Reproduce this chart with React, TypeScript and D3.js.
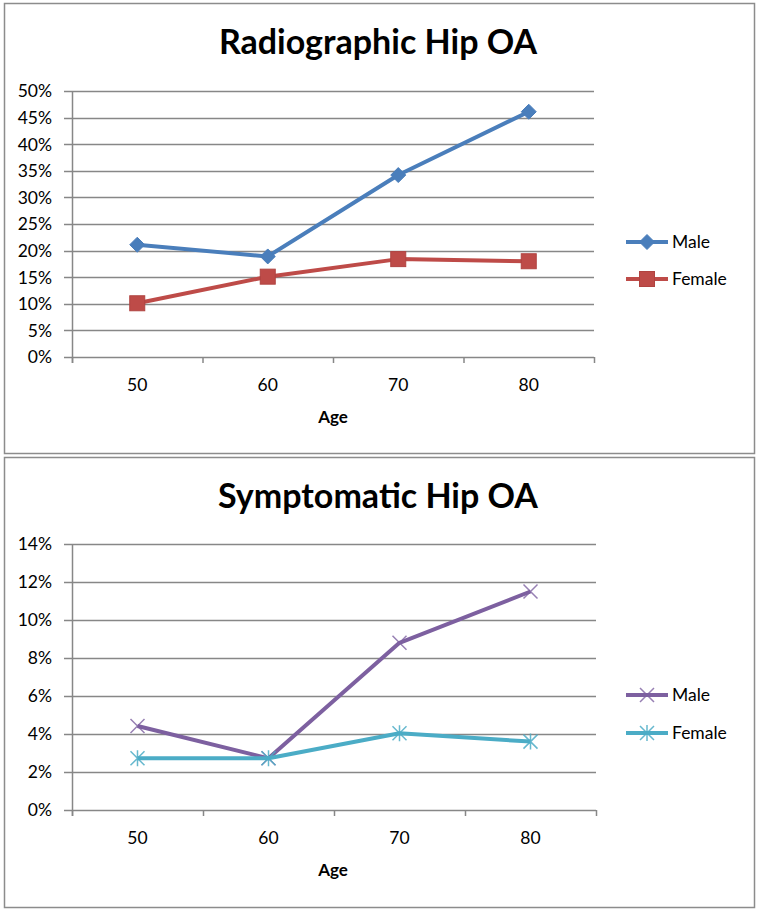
import React from "react";
import * as d3 from "d3";

const ages = ["50", "60", "70", "80"];
const radioMale = [21.1, 18.9, 34.2, 46.1];
const radioFemale = [10.1, 15.1, 18.4, 18.0];
const radioTicks = [0, 5, 10, 15, 20, 25, 30, 35, 40, 45, 50];
const sympMale = [4.42, 2.72, 8.8, 11.5];
const sympFemale = [2.72, 2.72, 4.04, 3.6];
const sympTicks = [0, 2, 4, 6, 8, 10, 12, 14];

const FONT = "Lato, 'Open Sans', sans-serif";
const GRID = "#878787";

type Series = { name: string; values: number[]; color: string; marker: string };

function Marker({ kind, x, y, color }: { kind: string; x: number; y: number; color: string }) {
  if (kind === "diamond") {
    const r = 7.5;
    return <path d={`M${x},${y - r}L${x + r},${y}L${x},${y + r}L${x - r},${y}Z`} fill={color} stroke={color} strokeWidth={1} />;
  }
  if (kind === "square") {
    const r = 7.5;
    return <rect x={x - r} y={y - r} width={2 * r} height={2 * r} fill={color} stroke="#b04340" strokeWidth={1} />;
  }
  if (kind === "x") {
    const r = 7;
    return (
      <path d={`M${x - r},${y - r}L${x + r},${y + r}M${x - r},${y + r}L${x + r},${y - r}`} stroke={color} strokeWidth={1.5} fill="none" opacity={0.8} />
    );
  }
  const r = 7;
  return (
    <path
      d={`M${x - r},${y - r}L${x + r},${y + r}M${x - r},${y + r}L${x + r},${y - r}M${x},${y - r - 1}L${x},${y + r + 1}`}
      stroke={color}
      strokeWidth={1.5}
      fill="none"
      opacity={0.85}
    />
  );
}

function Panel({
  top,
  height,
  title,
  titleY,
  plotTop,
  plotBottom,
  plotRight,
  maxV,
  ticks,
  series,
  legendY,
}: {
  top: number;
  height: number;
  title: string;
  titleY: number;
  plotTop: number;
  plotBottom: number;
  plotRight: number;
  maxV: number;
  ticks: number[];
  series: Series[];
  legendY: number[];
}) {
  const plotLeft = 72;
  const x = d3.scaleBand<string>().domain(ages).range([plotLeft, plotRight]);
  const y = d3.scaleLinear().domain([0, maxV]).range([plotBottom, plotTop]);
  const line = d3
    .line<number>()
    .x((_, i) => (x(ages[i]) as number) + x.bandwidth() / 2)
    .y((v) => y(v));
  const boundaries = [...ages.map((a) => x(a) as number), plotRight];
  return (
    <g>
      <rect x={4.5} y={top + 0.5} width={750} height={height} fill="#fff" stroke="#8c8c8c" strokeWidth={1.5} />
      <text x={378} y={titleY} textAnchor="middle" fontFamily={FONT} fontWeight="bold" fontSize={34} fill="#000">
        {title}
      </text>
      {ticks.map((t) => (
        <g key={t}>
          <line x1={plotLeft - 8} x2={plotRight} y1={Math.round(y(t)) + 0.5} y2={Math.round(y(t)) + 0.5} stroke={GRID} strokeWidth={1.5} />
          <text x={52} y={y(t)} dy="0.36em" textAnchor="end" fontFamily={FONT} fontSize={17.5} fill="#000">
            {t}%
          </text>
        </g>
      ))}
      <line x1={plotLeft + 0.5} x2={plotLeft + 0.5} y1={plotTop} y2={plotBottom + 6} stroke={GRID} strokeWidth={1.5} />
      {boundaries.map((b, i) => (
        <line key={i} x1={b + 0.5} x2={b + 0.5} y1={plotBottom} y2={plotBottom + 6} stroke={GRID} strokeWidth={1.5} />
      ))}
      {ages.map((a) => (
        <text key={a} x={(x(a) as number) + x.bandwidth() / 2} y={plotBottom + 28} dy="0.36em" textAnchor="middle" fontFamily={FONT} fontSize={17.5} fill="#000">
          {a}
        </text>
      ))}
      <text x={333} y={plotBottom + 60} dy="0.36em" textAnchor="middle" fontFamily={FONT} fontWeight="bold" fontSize={17} fill="#000">
        Age
      </text>
      {series.map((s) => (
        <g key={s.name}>
          <path d={line(s.values) as string} fill="none" stroke={s.color} strokeWidth={4} strokeLinejoin="round" />
          {s.values.map((v, i) => (
            <Marker key={i} kind={s.marker} x={(x(ages[i]) as number) + x.bandwidth() / 2} y={y(v)} color={s.color} />
          ))}
        </g>
      ))}
      {series.map((s, i) => (
        <g key={"lg" + s.name}>
          <line x1={626} x2={668} y1={legendY[i]} y2={legendY[i]} stroke={s.color} strokeWidth={4} />
          <Marker kind={s.marker} x={647} y={legendY[i]} color={s.color} />
          <text x={672} y={legendY[i]} dy="0.36em" fontFamily={FONT} fontSize={17.5} fill="#000">
            {s.name}
          </text>
        </g>
      ))}
    </g>
  );
}

export default function App() {
  return (
    <svg width={759} height={911} style={{ position: "absolute", left: 0, top: 0, background: "#fff" }}>
      <rect x={0} y={0} width={759} height={911} fill="#fff" />
      <Panel
        top={3}
        height={450}
        title="Radiographic Hip OA"
        titleY={54}
        plotTop={91}
        plotBottom={357}
        plotRight={594}
        maxV={50}
        ticks={radioTicks}
        series={[
          { name: "Male", values: radioMale, color: "#4a7ebb", marker: "diamond" },
          { name: "Female", values: radioFemale, color: "#be4b48", marker: "square" },
        ]}
        legendY={[242, 279]}
      />
      <Panel
        top={457}
        height={450}
        title="Symptomatic Hip OA"
        titleY={508}
        plotTop={544}
        plotBottom={810}
        plotRight={596}
        maxV={14}
        ticks={sympTicks}
        series={[
          { name: "Male", values: sympMale, color: "#7d60a0", marker: "x" },
          { name: "Female", values: sympFemale, color: "#4bacc6", marker: "star" },
        ]}
        legendY={[695, 733]}
      />
    </svg>
  );
}
